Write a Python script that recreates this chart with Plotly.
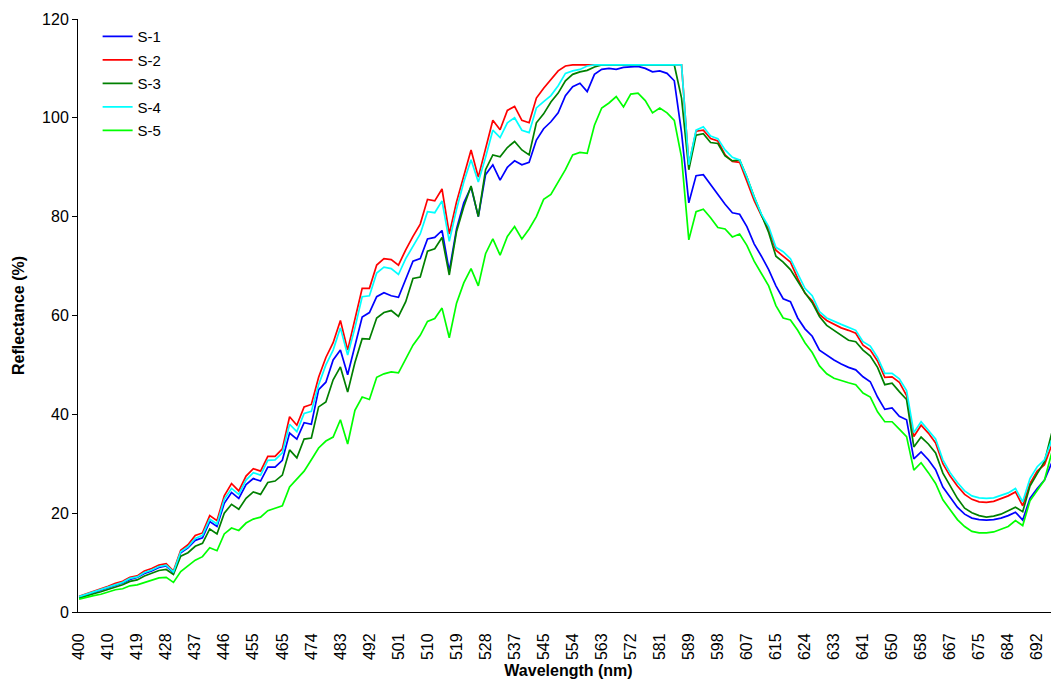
import plotly.graph_objects as go

# Tick labels of the category axis (wavelength, nm); one label every 4 samples
tick_labels = ["400", "410", "419", "428", "437", "446", "455", "465", "474", "483",
               "492", "501", "510", "519", "528", "537", "545", "554", "563", "572",
               "581", "589", "598", "607", "615", "624", "633", "641", "650", "658",
               "667", "675", "684", "692"]
samples_per_label = 4

series_names = ["S-1", "S-2", "S-3", "S-4", "S-5"]
series_colors = ["#0000FF", "#FF0000", "#008000", "#00FFFF", "#00FF00"]

s1 = [3.0, 3.5, 4.0, 4.4, 4.9, 5.5, 5.9, 6.6, 7.0, 7.8, 8.3, 9.0, 9.3, 8.0, 12.0, 13.0,
      14.5, 15.0, 18.3, 17.3, 22.0, 24.2, 23.0, 25.8, 27.0, 26.5, 29.3, 29.3, 30.7, 36.2,
      35.0, 38.3, 38.0, 45.0, 46.5, 51.0, 53.0, 48.0, 54.0, 59.7, 60.6, 63.8, 64.6, 64.0,
      63.7, 67.5, 71.0, 71.5, 75.5, 75.8, 77.2, 69.0, 77.5, 82.8, 86.0, 80.0, 88.5, 90.5,
      87.4, 90.0, 91.3, 90.5, 91.0, 95.5, 97.8, 99.2, 101.0, 104.5, 106.3, 107.0, 105.3,
      108.8, 109.8, 110.0, 109.8, 110.2, 110.3, 110.4, 110.0, 109.3, 109.5, 109.0, 107.5,
      97.0, 82.8, 88.3, 88.5, 86.5, 84.5, 82.5, 80.8, 80.5, 78.0, 74.5, 72.0, 69.3, 66.0,
      63.4, 62.8, 59.5, 57.3, 55.8, 53.0, 52.0, 51.0, 50.2, 49.5, 49.0, 47.6, 46.6, 43.5,
      41.0, 41.3, 39.6, 38.9, 31.0, 32.4, 30.8, 28.8, 25.3, 23.3, 21.2, 19.8, 19.0, 18.7,
      18.6, 18.7, 19.0, 19.5, 20.2, 18.6, 23.0, 25.0, 26.7, 30.2, 33.2]

s2 = [3.2, 3.7, 4.2, 4.6, 5.2, 5.8, 6.2, 7.0, 7.3, 8.3, 8.8, 9.5, 9.8, 8.3, 12.5, 13.6,
      15.5, 16.0, 19.5, 18.5, 23.5, 26.0, 24.5, 27.5, 29.0, 28.5, 31.5, 31.5, 33.0, 39.5,
      37.8, 41.5, 42.0, 47.5, 51.5, 54.5, 59.0, 53.0, 59.1, 65.5, 65.5, 70.2, 71.5, 71.3,
      70.2, 73.3, 76.0, 78.5, 83.5, 83.2, 85.6, 76.5, 83.0, 88.3, 93.5, 88.0, 94.0, 99.5,
      97.6, 101.5, 102.3, 99.5, 99.0, 104.0, 106.0, 107.8, 109.5, 110.5, 110.7, 110.7,
      110.7, 110.7, 110.7, 110.7, 110.7, 110.7, 110.7, 110.7, 110.7, 110.7, 110.7, 110.7,
      110.7, 110.7, 90.5, 97.3, 97.5, 95.8, 95.3, 92.5, 91.2, 91.0, 87.2, 83.3, 80.2, 77.5,
      73.2, 71.9, 70.8, 67.5, 64.5, 63.0, 60.2, 59.0, 58.2, 57.5, 57.0, 56.4, 54.0, 53.0,
      50.8, 47.5, 47.6, 46.5, 43.8, 35.5, 37.8, 36.2, 34.2, 30.0, 27.5, 25.5, 23.8, 22.8,
      22.3, 22.2, 22.4, 22.9, 23.5, 24.3, 21.5, 26.0, 28.5, 29.8, 33.8, 37.2]

s3 = [2.8, 3.3, 3.7, 4.1, 4.6, 5.1, 5.5, 6.2, 6.5, 7.3, 7.8, 8.4, 8.6, 7.6, 11.3, 12.0,
      13.3, 13.9, 16.8, 15.8, 20.0, 21.8, 20.8, 23.0, 24.3, 23.8, 26.2, 26.5, 27.7, 32.8,
      31.2, 35.0, 35.2, 41.5, 42.5, 47.0, 49.6, 44.5, 50.5, 55.3, 55.2, 59.5, 60.6, 61.0,
      59.8, 62.8, 67.5, 67.8, 73.0, 73.5, 75.8, 68.2, 77.0, 82.0, 86.2, 80.0, 89.5, 92.5,
      92.1, 94.0, 95.2, 93.5, 92.5, 99.0, 100.8, 103.2, 105.0, 107.5, 108.8, 109.3, 109.6,
      110.3, 110.7, 110.7, 110.7, 110.7, 110.7, 110.7, 110.7, 110.7, 110.7, 110.7, 110.7,
      104.0, 89.5, 96.5, 96.8, 95.0, 94.8, 92.3, 91.3, 91.5, 88.0, 84.0, 80.2, 76.8, 72.0,
      70.8, 69.3, 67.0, 64.6, 62.6, 59.8, 58.0, 57.0, 56.0, 55.0, 54.7, 53.0, 51.8, 49.5,
      46.0, 46.3, 44.6, 43.0, 33.4, 35.4, 34.0, 32.2, 28.1, 25.5, 23.0, 21.0, 20.1, 19.5,
      19.2, 19.4, 19.8, 20.5, 21.2, 20.3, 25.5, 28.0, 30.4, 36.2, 40.5]

s4 = [3.1, 3.6, 4.1, 4.5, 5.0, 5.6, 6.0, 6.8, 7.1, 8.0, 8.5, 9.2, 9.5, 8.1, 12.2, 13.2,
      14.9, 15.5, 18.8, 17.8, 22.8, 25.0, 23.8, 26.7, 28.2, 27.7, 30.7, 30.8, 32.2, 38.0,
      36.5, 40.2, 40.6, 46.0, 50.0, 53.0, 57.5, 52.0, 57.5, 63.8, 64.0, 68.6, 69.8, 69.5,
      68.3, 71.5, 74.0, 76.5, 81.0, 80.8, 83.2, 75.0, 81.5, 87.0, 91.5, 87.0, 92.0, 97.5,
      96.0, 99.0, 100.0, 97.5, 97.0, 102.0, 103.3, 104.5, 106.5, 109.0, 109.5, 109.8, 110.5,
      110.7, 110.7, 110.7, 110.7, 110.7, 110.7, 110.7, 110.7, 110.7, 110.7, 110.7, 110.7,
      110.7, 90.5, 97.5, 98.2, 96.3, 95.8, 93.5, 92.0, 91.5, 88.0, 84.0, 80.5, 78.0, 73.8,
      72.9, 71.5, 68.5, 65.5, 64.0, 60.8, 59.5, 58.8, 58.2, 57.6, 57.0, 54.7, 53.8, 51.5,
      48.3, 48.3, 47.2, 44.8, 36.3, 38.5, 36.8, 35.0, 30.8, 28.2, 26.2, 24.5, 23.5, 23.1,
      23.0, 23.1, 23.6, 24.1, 25.0, 22.3, 27.0, 29.4, 30.8, 34.8, 38.3]

s5 = [2.6, 3.0, 3.3, 3.6, 4.0, 4.5, 4.7, 5.3, 5.5, 6.0, 6.4, 6.9, 7.0, 6.0, 8.2, 9.3,
      10.5, 11.2, 13.0, 12.4, 15.8, 17.0, 16.5, 18.0, 18.8, 19.2, 20.5, 21.0, 21.5, 25.3,
      27.0, 28.5, 30.8, 33.2, 34.6, 35.4, 38.9, 34.0, 40.8, 43.5, 43.0, 47.5, 48.2, 48.6,
      48.4, 51.2, 54.0, 56.0, 58.8, 59.4, 61.5, 55.5, 62.5, 66.6, 69.5, 66.0, 72.5, 75.5,
      72.2, 76.0, 78.0, 75.5, 77.5, 80.0, 83.5, 84.5, 87.0, 89.5, 92.5, 93.0, 92.8, 98.5,
      102.0, 103.0, 104.3, 102.2, 104.8, 105.0, 103.5, 101.0, 102.0, 101.0, 99.5, 92.0,
      75.3, 81.0, 81.5, 79.8, 77.8, 77.5, 75.9, 76.5, 74.2, 71.0, 68.5, 66.0, 62.0, 59.5,
      59.1, 57.0, 54.5, 52.5, 49.8, 48.2, 47.3, 46.8, 46.4, 46.0, 44.3, 43.5, 40.5, 38.5,
      38.5, 37.0, 35.5, 28.7, 30.2, 28.2, 26.0, 22.7, 20.7, 18.7, 17.3, 16.3, 16.0, 16.0,
      16.2, 16.7, 17.3, 18.5, 17.5, 22.5, 24.5, 26.7, 32.2, 35.2]

all_series = [s1, s2, s3, s4, s5]
n = len(s1)
x_index = list(range(n))
tick_positions = [k * samples_per_label for k in range(len(tick_labels))]

FONT = "Liberation Sans, Arial, sans-serif"

fig = go.Figure()
for name, color, vals in zip(series_names, series_colors, all_series):
    fig.add_trace(go.Scatter(
        x=x_index, y=vals, mode="lines", name=name,
        line=dict(color=color, width=1.7),
        legendgroup=name,
    ))

# The page body adds an 8px offset, so the figure is sized/margined to compensate.
fig.update_layout(
    width=1051, height=671,
    margin=dict(l=70, r=0, t=11, b=67, autoexpand=False),
    plot_bgcolor="white", paper_bgcolor="white",
    font=dict(family=FONT, size=16, color="black"),
    legend=dict(x=0.02, y=0.998, xanchor="left", yanchor="top",
                bgcolor="rgba(0,0,0,0)", font=dict(size=15, family=FONT),
                tracegroupgap=1),
    xaxis=dict(
        range=[-0.15, n - 1],
        tickmode="array", tickvals=tick_positions, ticktext=tick_labels,
        tickangle=-90, ticks="outside", ticklen=14, tickcolor="rgba(0,0,0,0)",
        showgrid=False, zeroline=False,
        showline=True, linecolor="black", linewidth=1, automargin=False,
        tickfont=dict(size=16, family=FONT),
        title=dict(text="<b>Wavelength (nm)</b>", font=dict(size=16, family=FONT), standoff=9),
    ),
    yaxis=dict(
        range=[0, 120], dtick=20, tick0=0,
        ticks="outside", ticklen=5, tickcolor="black",
        showgrid=False, zeroline=False,
        showline=True, linecolor="black", linewidth=1, automargin=False,
        tickfont=dict(size=16, family=FONT),
        title=dict(text="<b>Reflectance (%)</b>", font=dict(size=16, family=FONT), standoff=13),
    ),
)

fig.write_html("out.html")
